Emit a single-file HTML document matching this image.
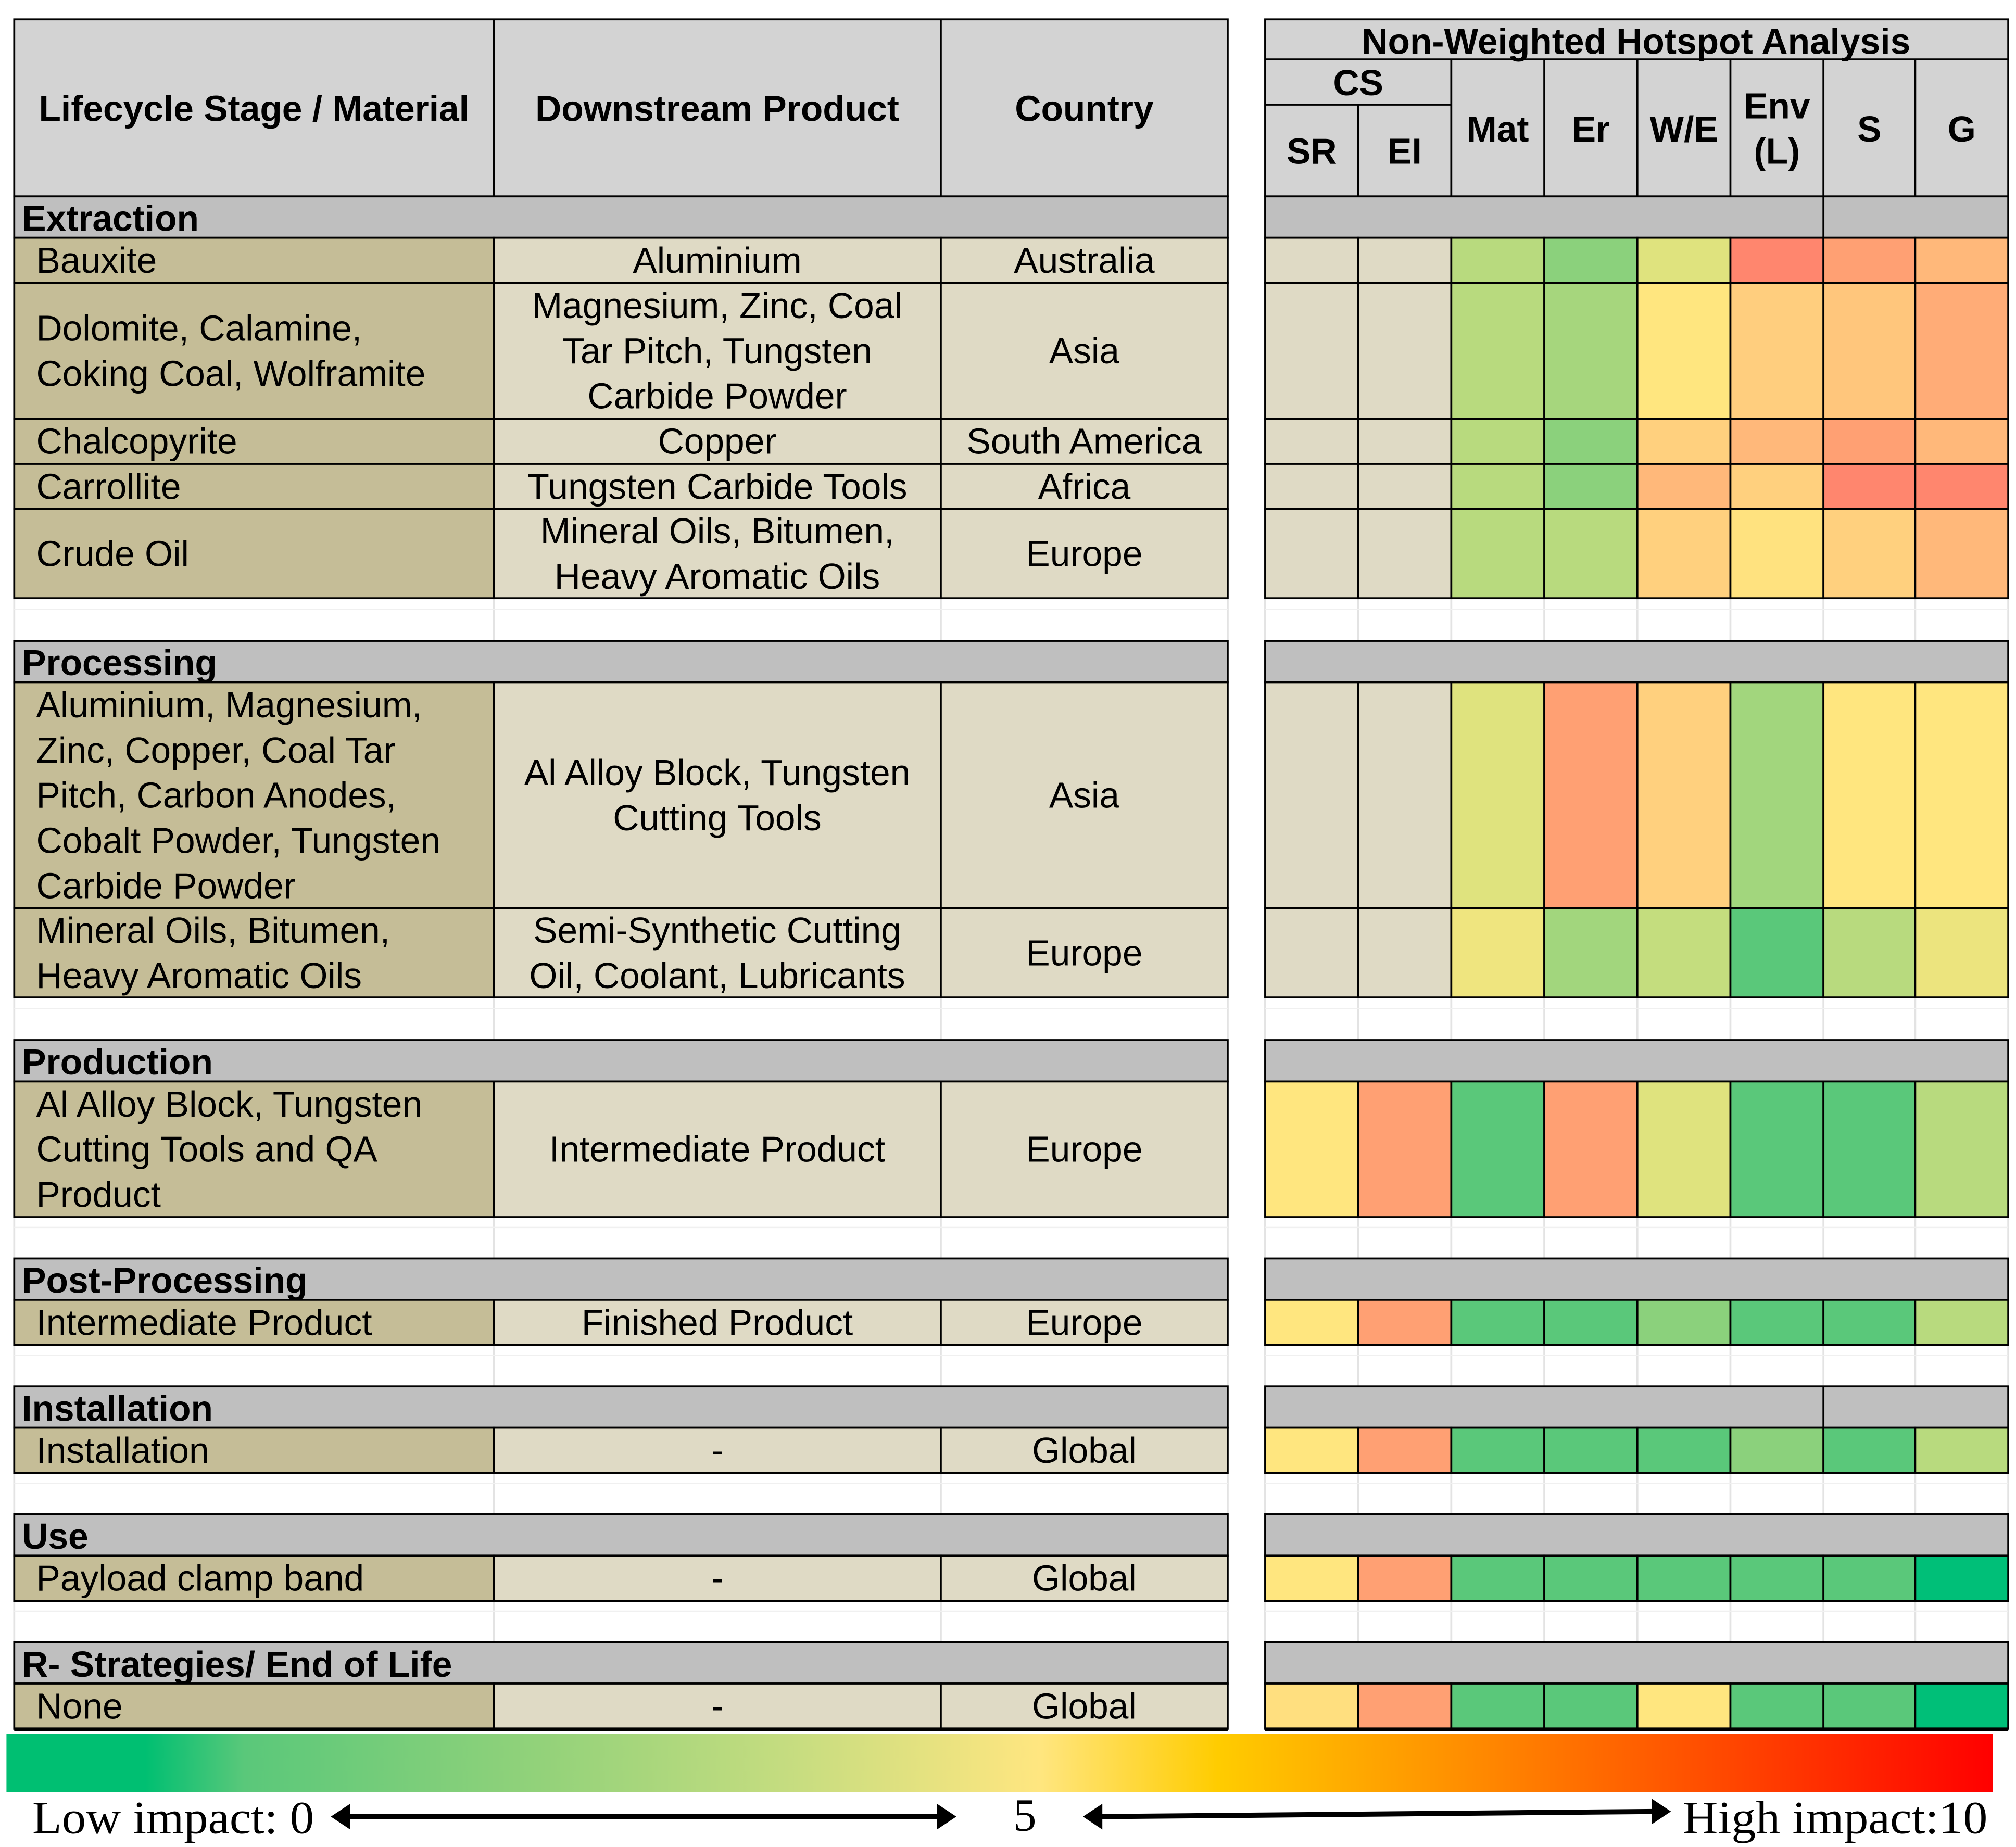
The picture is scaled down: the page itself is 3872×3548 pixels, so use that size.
<!DOCTYPE html>
<html><head><meta charset="utf-8">
<style>
html,body{margin:0;padding:0;background:#fff;}
svg{display:block;}
</style></head>
<body>
<svg id="chart" xmlns="http://www.w3.org/2000/svg" width="3872" height="3548" viewBox="0 0 1560 1429.5" preserveAspectRatio="none">
<defs>
<linearGradient id="impactGrad" x1="0" x2="1" y1="0" y2="0">
<stop offset="0" stop-color="#00bf72"/>
<stop offset="0.07" stop-color="#00bf72"/>
<stop offset="0.12" stop-color="#5ac87a"/>
<stop offset="0.27" stop-color="#93d27a"/>
<stop offset="0.4" stop-color="#c8dd80"/>
<stop offset="0.52" stop-color="#ffe680"/>
<stop offset="0.61" stop-color="#ffcc00"/>
<stop offset="0.72" stop-color="#ff9500"/>
<stop offset="0.85" stop-color="#ff5000"/>
<stop offset="1" stop-color="#ff0000"/>
</linearGradient>
</defs>
<g id="layer"></g>
</svg>
<script>
const columns = ["SR","EI","Mat","Er","W/E","Env (L)","S","G"];
const valBauxite = [null,null,3,2,4,9,8,7];
const valDolomite = [null,null,3,2.6,5,6.1,6.4,7.5];
const valChalcopyrite = [null,null,3,2,6,7,8,7];
const valCarrollite = [null,null,3,2,7,6,9,9];
const valCrudeOil = [null,null,3,3,6,5.2,6,7];
const valProcAsia = [null,null,4,8,6,2.5,5,5];
const valProcEurope = [null,null,4.5,2.5,3.3,1,3,4.4];
const valProduction = [5,8,1,8,4,1,1,3];
const valPostProcessing = [5,8,1,1,2,1,1,3];
const valInstallation = [5,8,1,1,1,2,1,3];
const valUse = [5,8,1,1,1,1,1,0];
const valEndOfLife = [5.3,8,1,1,5,1,1,0];

const NS="http://www.w3.org/2000/svg";
const g=document.getElementById('layer');
const FS=28;
function el(tag,attrs,parent){const e=document.createElementNS(NS,tag);for(const k in attrs)e.setAttribute(k,attrs[k]);(parent||g).appendChild(e);return e;}
function txt(x,y,s,o){o=o||{};const a={x:x,y:y,'font-family':o.serif?'"Liberation Serif", serif':'"Liberation Sans", sans-serif','font-size':o.size||FS,'font-weight':o.bold?'bold':'normal','text-anchor':o.anchor||'start','dominant-baseline':'central',fill:'#000'};if(o.len){a.textLength=o.len;a.lengthAdjust='spacingAndGlyphs';}const t=el('text',a);t.textContent=s;return t;}

const stops=[[0,[0,191,120]],[1,[90,200,122]],[2,[139,209,124]],[3,[184,218,126]],[4,[223,227,126]],[5,[255,230,127]],[6,[255,208,126]],[7,[255,184,122]],[8,[255,160,115]],[9,[255,134,110]]];
function colorOf(v){if(v<=0)return 'rgb(0,191,120)';if(v>=9)return 'rgb(255,134,110)';const i=Math.floor(v);const f=v-i;const a=stops[i][1],b=stops[i+1][1];return 'rgb('+a.map((c,k)=>Math.round(c+(b[k]-c)*f)).join(',')+')';}

const LX=[11,382,728,950];
const RX=[979,1051,1123,1195,1267,1339,1411,1482,1554];
const BG1='#c5bd97', BG2='#dfdac5', HEAD='#d3d3d3', SEC='#bfbfbf';

const hdr=el('g',{});


el('rect',{x:11,y:15,width:939,height:137,fill:HEAD,stroke:'#000','stroke-width':1.5},hdr);
[382,728].forEach(x=>el('line',{x1:x,y1:15,x2:x,y2:152,stroke:'#000','stroke-width':1.5},hdr));
let t=txt(196.5,84,'Lifecycle Stage / Material',{bold:true,anchor:'middle'});
t=txt(555,84,'Downstream Product',{bold:true,anchor:'middle'});
t=txt(839,84,'Country',{bold:true,anchor:'middle'});
el('rect',{x:979,y:15,width:575,height:137,fill:HEAD,stroke:'#000','stroke-width':1.5},hdr);
el('line',{x1:979,y1:46,x2:1554,y2:46,stroke:'#000','stroke-width':1.5},hdr);
el('line',{x1:979,y1:81,x2:1123,y2:81,stroke:'#000','stroke-width':1.5},hdr);
el('line',{x1:1051,y1:81,x2:1051,y2:152,stroke:'#000','stroke-width':1.5},hdr);
for(let i=2;i<8;i++)el('line',{x1:RX[i],y1:46,x2:RX[i],y2:152,stroke:'#000','stroke-width':1.5},hdr);
t=txt(1266,32,'Non-Weighted Hotspot Analysis',{bold:true,anchor:'middle'});
t=txt(1051,64,'CS',{bold:true,anchor:'middle'});
t=txt(1015,117,'SR',{bold:true,anchor:'middle'});
t=txt(1087,117,'EI',{bold:true,anchor:'middle'});
[['Mat',2],['Er',3],['W/E',4],['S',6],['G',7]].forEach(([s,i])=>{const tt=txt((RX[i]+RX[i+1])/2,100,s,{bold:true,anchor:'middle'});});
t=txt(1375,82,'Env',{bold:true,anchor:'middle'});
t=txt(1375,117,'(L)',{bold:true,anchor:'middle'});

const sections=[
 {title:'Extraction',y0:152,y1:184,split:true,rows:[
  {y0:184,y1:219,a:['Bauxite'],b:['Aluminium'],c:'Australia',v:valBauxite},
  {y0:219,y1:324,a:['Dolomite, Calamine,','Coking Coal, Wolframite'],b:['Magnesium, Zinc, Coal','Tar Pitch, Tungsten','Carbide Powder'],c:'Asia',v:valDolomite},
  {y0:324,y1:359,a:['Chalcopyrite'],b:['Copper'],c:'South America',v:valChalcopyrite},
  {y0:359,y1:394,a:['Carrollite'],b:['Tungsten Carbide Tools'],c:'Africa',v:valCarrollite},
  {y0:394,y1:463,a:['Crude Oil'],b:['Mineral Oils, Bitumen,','Heavy Aromatic Oils'],c:'Europe',v:valCrudeOil}]},
 {title:'Processing',y0:496,y1:528,rows:[
  {y0:528,y1:703,a:['Aluminium, Magnesium,','Zinc, Copper, Coal Tar','Pitch, Carbon Anodes,','Cobalt Powder, Tungsten','Carbide Powder'],b:['Al Alloy Block, Tungsten','Cutting Tools'],c:'Asia',v:valProcAsia},
  {y0:703,y1:772,a:['Mineral Oils, Bitumen,','Heavy Aromatic Oils'],b:['Semi-Synthetic Cutting','Oil, Coolant, Lubricants'],c:'Europe',v:valProcEurope}]},
 {title:'Production',y0:805,y1:837,rows:[
  {y0:837,y1:942,a:['Al Alloy Block, Tungsten','Cutting Tools and QA','Product'],b:['Intermediate Product'],c:'Europe',v:valProduction}]},
 {title:'Post-Processing',y0:974,y1:1006,rows:[
  {y0:1006,y1:1041,a:['Intermediate Product'],b:['Finished Product'],c:'Europe',v:valPostProcessing}]},
 {title:'Installation',y0:1073,y1:1105,split:true,rows:[
  {y0:1105,y1:1140,a:['Installation'],b:['-'],c:'Global',v:valInstallation}]},
 {title:'Use',y0:1172,y1:1204,rows:[
  {y0:1204,y1:1239,a:['Payload clamp band'],b:['-'],c:'Global',v:valUse}]},
 {title:'R- Strategies/ End of Life',y0:1271,y1:1303,rows:[
  {y0:1303,y1:1338,a:['None'],b:['-'],c:'Global',v:valEndOfLife}]}
];

const grid=el('g',{});


[[463,496],[772,805],[942,974],[1041,1073],[1140,1172],[1239,1271]].forEach(([a,b])=>{
 LX.concat(RX).forEach(x=>el('line',{x1:x,y1:a,x2:x,y2:b,stroke:'#e3e3e3','stroke-width':1.5},grid));
 el('line',{x1:11,y1:(a+b)/2-8,x2:950,y2:(a+b)/2-8,stroke:'#f0f0f0','stroke-width':1},grid);
 el('line',{x1:979,y1:(a+b)/2-8,x2:1554,y2:(a+b)/2-8,stroke:'#f0f0f0','stroke-width':1},grid);
});

const LH=35;
sections.forEach((s,si)=>{
 const sg=el('g',{});
 
 
 el('rect',{x:11,y:s.y0,width:939,height:s.y1-s.y0,fill:SEC,stroke:'#000','stroke-width':1.5},sg);
 el('rect',{x:979,y:s.y0,width:575,height:s.y1-s.y0,fill:SEC,stroke:'#000','stroke-width':1.5},sg);
 if(s.split)el('line',{x1:1411,y1:s.y0,x2:1411,y2:s.y1,stroke:'#000','stroke-width':1.5},sg);
 const st=txt(17,(s.y0+s.y1)/2+1,s.title,{bold:true});
 
 
 sg.appendChild(st);
 s.rows.forEach((r,ri)=>{
  const rg=el('g',{},sg);
  
  
  const h=r.y1-r.y0, cy=(r.y0+r.y1)/2;
  el('rect',{x:11,y:r.y0,width:371,height:h,fill:BG1,stroke:'#000','stroke-width':1.5},rg);
  el('rect',{x:382,y:r.y0,width:346,height:h,fill:BG2,stroke:'#000','stroke-width':1.5},rg);
  el('rect',{x:728,y:r.y0,width:222,height:h,fill:BG2,stroke:'#000','stroke-width':1.5},rg);
  [[r.a,28,'start'],[r.b,555,'middle'],[[r.c],839,'middle']].forEach(([lines,x,anc])=>{
   const y0=cy-(lines.length-1)*LH/2;
   lines.forEach((ln,k)=>{const tt=txt(x,y0+k*LH,ln,{anchor:anc});rg.appendChild(tt);});
  });
  r.v.forEach((v,ci)=>{
   const c=el('rect',{x:RX[ci],y:r.y0,width:RX[ci+1]-RX[ci],height:h,fill:v===null?BG2:colorOf(v),stroke:'#000','stroke-width':1.5},rg);
   
   
  });
 });
});
el('line',{x1:11,y1:1338.5,x2:950,y2:1338.5,stroke:'#000','stroke-width':3});
el('line',{x1:979,y1:1338.5,x2:1554,y2:1338.5,stroke:'#000','stroke-width':3});

const lg=el('g',{});


const bar=el('rect',{x:5,y:1342,width:1537,height:45,fill:'url(#impactGrad)'},lg);


let lt=txt(25,1407,'Low impact: 0',{serif:true,size:36,len:218});lg.appendChild(lt);


lt=txt(793,1405,'5',{serif:true,size:36,anchor:'middle'});lg.appendChild(lt);


lt=txt(1302,1407,'High impact:10',{serif:true,size:36,len:236});lg.appendChild(lt);


function arrow(x1,x2,y1,y2){
 el('line',{x1:x1+12,y1:y1,x2:x2-12,y2:y2,stroke:'#000','stroke-width':4},lg);
 el('polygon',{points:(x1)+','+y1+' '+(x1+15)+','+(y1-10)+' '+(x1+15)+','+(y1+10),fill:'#000'},lg);
 el('polygon',{points:(x2)+','+y2+' '+(x2-15)+','+(y2-10)+' '+(x2-15)+','+(y2+10),fill:'#000'},lg);
}
arrow(256,740,1406,1406);
arrow(838,1293,1406,1402);
</script>
</body></html>
